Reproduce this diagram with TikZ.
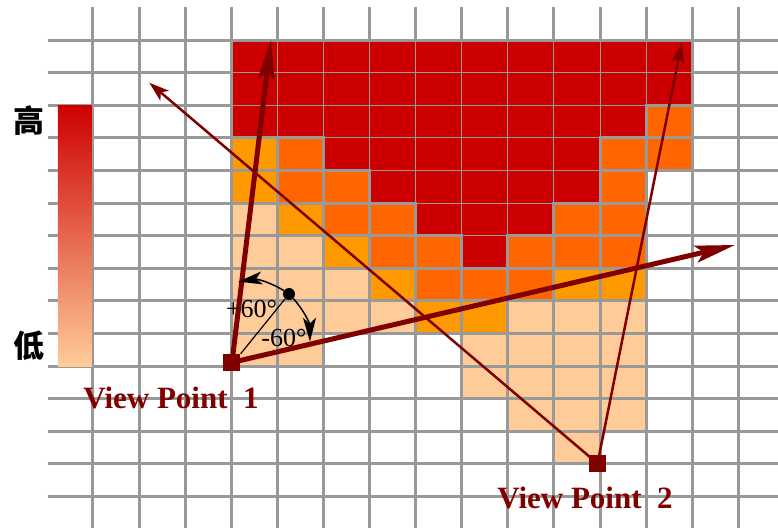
\documentclass[tikz,border=0pt]{standalone}
\usepackage{fontspec}
\setmainfont{Liberation Serif}
\newfontfamily\cjk{Noto Sans CJK SC}
\usetikzlibrary{arrows.meta}

\definecolor{gridgray}{RGB}{153,153,153}
\definecolor{cellred}{RGB}{204,0,0}
\definecolor{celldeep}{RGB}{255,102,0}
\definecolor{cellorange}{RGB}{255,153,0}
\definecolor{cellpeach}{RGB}{255,204,153}
\definecolor{viewred}{RGB}{128,0,0}

\def\hotzone{(3,0) -- (13,0) -- (13,2) -- (12,2) -- (12,3) -- (11,3) -- (11,5) -- (10,5) -- (10,6) -- (9,6) -- (9,7) -- (8,7) -- (8,6) -- (7,6) -- (7,5) -- (6,5) -- (6,4) -- (5,4) -- (5,3) -- (3,3) -- cycle}

\tikzset{
  gridline/.style={line width=3pt, draw=gridgray},
  thinline/.style={line width=1pt, draw=gridgray},
  sightthick/.style={line width=5pt, draw=viewred, -{Stealth[length=40pt,width=17pt,inset=8pt]}},
  sightthin/.style={line width=2.5pt, draw=viewred, -{Stealth[length=20pt,width=13pt,inset=5pt]}},
  viewpt/.style={rectangle, fill=viewred, minimum size=17pt, inner sep=0pt},
  vplabel/.style={text=viewred, anchor=base, font=\fontsize{31}{31}\selectfont\bfseries},
  turnarrow/.style={line width=1.5pt, -{Stealth[length=24pt,width=13pt,inset=6pt]}},
  anglabel/.style={font=\fontsize{26}{26}\selectfont, inner sep=0pt},
  levellabel/.style={font=\fontsize{31}{31}\selectfont\cjk\bfseries, inner sep=0pt},
}

\begin{document}
\begin{tikzpicture}[x=46.1pt, y=-32.6pt]
\useasboundingbox (-2.017,-1.227) rectangle (14.859,14.969);
% cells below the red zone
\fill[celldeep] (12,2) rectangle (13,3);
\fill[cellorange] (3,3) rectangle (4,5);
\fill[celldeep] (4,3) rectangle (5,5);
\fill[celldeep] (11,3) rectangle (13,4);
\fill[celldeep] (5,4) rectangle (6,5);
\fill[celldeep] (11,4) rectangle (12,5);
\fill[cellpeach] (3,5) rectangle (4,6);
\fill[cellorange] (4,5) rectangle (5,6);
\fill[celldeep] (5,5) rectangle (7,6);
\fill[celldeep] (10,5) rectangle (12,6);
\fill[cellpeach] (3,6) rectangle (5,7);
\fill[cellorange] (5,6) rectangle (6,7);
\fill[celldeep] (6,6) rectangle (8,7);
\fill[celldeep] (9,6) rectangle (12,7);
\fill[cellpeach] (3,7) rectangle (6,8);
\fill[cellorange] (6,7) rectangle (7,8);
\fill[celldeep] (7,7) rectangle (10,8);
\fill[cellorange] (10,7) rectangle (12,8);
\fill[cellpeach] (3,8) rectangle (7,9);
\fill[cellorange] (7,8) rectangle (9,9);
\fill[cellpeach] (9,8) rectangle (12,9);
\fill[cellpeach] (3,9) rectangle (5,10);
\fill[cellpeach] (8,9) rectangle (12,11);
\fill[cellpeach] (9,11) rectangle (12,12);
\fill[cellpeach] (10,12) rectangle (11,13);
% grid
\draw[gridline] (0,-1.012) -- (0,14.969);
\draw[gridline] (1,-1.012) -- (1,14.969);
\draw[gridline] (2,-1.012) -- (2,14.969);
\draw[gridline] (3,-1.012) -- (3,14.969);
\draw[gridline] (4,-1.012) -- (4,14.969);
\draw[gridline] (5,-1.012) -- (5,14.969);
\draw[gridline] (6,-1.012) -- (6,14.969);
\draw[gridline] (7,-1.012) -- (7,14.969);
\draw[gridline] (8,-1.012) -- (8,14.969);
\draw[gridline] (9,-1.012) -- (9,14.969);
\draw[gridline] (10,-1.012) -- (10,14.969);
\draw[gridline] (11,-1.012) -- (11,14.969);
\draw[gridline] (12,-1.012) -- (12,14.969);
\draw[gridline] (13,-1.012) -- (13,14.969);
\draw[gridline] (14,-1.012) -- (14,14.969);
\draw[gridline] (-0.976,0) -- (14.859,0);
\draw[gridline] (-0.976,1) -- (14.859,1);
\draw[gridline] (-0.976,2) -- (14.859,2);
\draw[gridline] (-0.976,3) -- (14.859,3);
\draw[gridline] (-0.976,4) -- (14.859,4);
\draw[gridline] (-0.976,5) -- (14.859,5);
\draw[gridline] (-0.976,6) -- (14.859,6);
\draw[gridline] (-0.976,7) -- (14.859,7);
\draw[gridline] (-0.976,8) -- (14.859,8);
\draw[gridline] (-0.976,9) -- (14.859,9);
\draw[gridline] (-0.976,10) -- (14.859,10);
\draw[gridline] (-0.976,11) -- (14.859,11);
\draw[gridline] (-0.976,12) -- (14.859,12);
\draw[gridline] (-0.976,13) -- (14.859,13);
\draw[gridline] (-0.976,14) -- (14.859,14);
% red zone on top, thin inner lines
\fill[cellred] \hotzone;
\begin{scope}
\clip \hotzone;
\draw[thinline] (4,0) -- (4,7);
\draw[thinline] (5,0) -- (5,7);
\draw[thinline] (6,0) -- (6,7);
\draw[thinline] (7,0) -- (7,7);
\draw[thinline] (8,0) -- (8,7);
\draw[thinline] (9,0) -- (9,7);
\draw[thinline] (10,0) -- (10,7);
\draw[thinline] (11,0) -- (11,7);
\draw[thinline] (12,0) -- (12,7);
\draw[thinline] (3,1) -- (13,1);
\draw[thinline] (3,2) -- (13,2);
\draw[thinline] (3,3) -- (13,3);
\draw[thinline] (3,4) -- (13,4);
\draw[thinline] (3,5) -- (13,5);
\draw[thinline] (3,6) -- (13,6);
\end{scope}
\draw[gridline] \hotzone;
% level bar
\shade[top color=cellred, bottom color=cellpeach] (-0.759,2) rectangle (-0.025,10);
\node[levellabel] (high) at (-1.388,2.485) {高};
\node[levellabel] (low) at (-1.388,9.387) {低};
% view points and sight lines
\coordinate (vp1) at (3.015,9.890);
\coordinate (vp2) at (10.944,12.990);
\coordinate (vp1up) at (3.861,0.000);
\coordinate (vp1right) at (13.926,6.288);
\coordinate (vp2left) at (1.221,1.310);
\coordinate (vp2up) at (12.770,0.101);
\draw[sightthin] (vp2) -- (vp2left);
\draw[sightthin] (vp2) -- (vp2up);
\draw[sightthick] (vp1) -- (vp1up);
\draw[sightthick] (vp1) -- (vp1right);
\node[viewpt] (vp1box) at (vp1) {};
\node[viewpt] (vp2box) at (vp2) {};
\node[vplabel] (vp1text) at (1.692,11.288) {View Point~\ 1};
\node[vplabel] (vp2text) at (10.672,14.356) {View Point~\ 2};
% turning range
\node[circle, fill=black, minimum size=12pt, inner sep=0pt] (pivot) at (4.252,7.791) {};
\coordinate (turnleft) at (3.152,7.414);
\coordinate (turnright) at (4.707,9.255);
\draw[line width=1.2pt] (vp1box.north east) -- (pivot);
\draw[turnarrow] (pivot) to[bend right=20] (turnleft);
\draw[turnarrow] (pivot) to[bend left=20] (turnright);
\node[anglabel] (plus) at (3.440,8.250) {+60°};
\node[anglabel] (minus) at (4.143,9.150) {-60°};
\end{tikzpicture}
\end{document}
